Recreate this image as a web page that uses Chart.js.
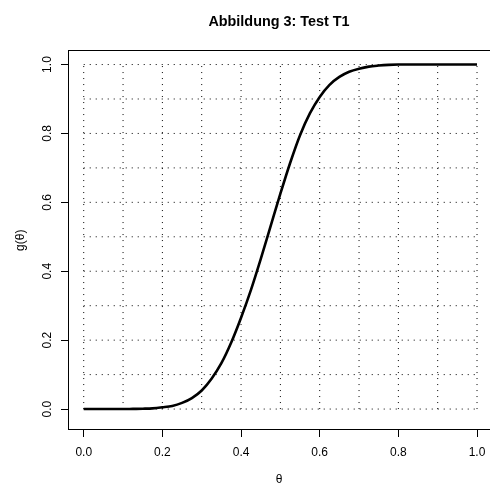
<!DOCTYPE html>
<html>
<head>
<meta charset="utf-8">
<script src="https://cdn.jsdelivr.net/npm/chart.js@4.4.0/dist/chart.umd.min.js"></script>
<style>
  html, body { margin: 0; padding: 0; background: #fff; overflow: hidden; }
  canvas { display: block; }
</style>
</head>
<body>
<canvas id="plot" width="490" height="485"></canvas>
<script>
// curve g(theta), values
const theta = [0, 0.05, 0.1, 0.125, 0.15, 0.175, 0.2, 0.225, 0.25, 0.275,
               0.3, 0.325, 0.35, 0.375, 0.4, 0.425, 0.45, 0.475, 0.5, 0.525,
               0.55, 0.575, 0.6, 0.625, 0.65, 0.675, 0.7, 0.725, 0.75, 0.775,
               0.8, 0.85, 0.9, 0.95, 1.0];
const gTheta = [0, 0, 0, 0.0005, 0.001, 0.002, 0.005, 0.009, 0.018, 0.032,
                0.054, 0.088, 0.133, 0.193, 0.265, 0.345, 0.435, 0.530, 0.625, 0.715,
                0.795, 0.858, 0.906, 0.941, 0.964, 0.979, 0.988, 0.994, 0.997, 0.999,
                1.0, 1.0, 1.0, 1.0, 1.0];

// axes
const xTicks = [0, 0.2, 0.4, 0.6, 0.8, 1.0];
const yTicks = [0, 0.2, 0.4, 0.6, 0.8, 1.0];

// dotted reference grid, drawn over [0,1] x [0,1]
const gridSteps = [0, 0.1, 0.2, 0.3, 0.4, 0.5, 0.6, 0.7, 0.8, 0.9, 1.0];
const gridRange = [0, 1];

Chart.defaults.font.family = "'Liberation Sans', Arial, sans-serif";
Chart.defaults.color = '#000';

function dotted(points) {
  return {
    data: points,
    borderColor: '#000',
    borderWidth: 1,
    borderDash: [1, 5],
    pointRadius: 0,
    tension: 0
  };
}

const gridSets = [];
gridSteps.forEach(v => {
  gridSets.push(dotted([{x: v, y: gridRange[0]}, {x: v, y: gridRange[1]}]));
  gridSets.push(dotted([{x: gridRange[0], y: v}, {x: gridRange[1], y: v}]));
});

const curve = {
  data: theta.map((t, i) => ({x: t, y: gTheta[i]})),
  borderColor: '#000',
  borderWidth: 2.6,
  pointRadius: 0,
  cubicInterpolationMode: 'monotone'
};

// R-like frame round the plot region
const frame = {
  id: 'frame',
  beforeDatasetsDraw(chart) {
    const a = chart.chartArea, c = chart.ctx;
    c.save();
    c.strokeStyle = '#000';
    c.lineWidth = 1;
    c.strokeRect(Math.round(a.left) + 0.5, Math.round(a.top) + 0.5,
                 Math.round(a.right - a.left) + 10, Math.round(a.bottom - a.top) - 1);
    c.restore();
  }
};

new Chart(document.getElementById('plot'), {
  type: 'line',
  data: { datasets: [curve].concat(gridSets) },
  plugins: [frame],
  options: {
    responsive: false,
    animation: false,
    devicePixelRatio: 1,
    layout: { padding: 0 },
    plugins: {
      legend: { display: false },
      tooltip: { enabled: false },
      title: {
        display: true,
        text: 'Abbildung 3: Test T1',
        fullSize: false,
        color: '#000',
        font: { size: 14.4, weight: 'bold' },
        padding: { top: 13.4, bottom: 19.8 }
      }
    },
    scales: {
      x: {
        type: 'linear',
        min: -0.04,
        max: 1.033,
        afterBuildTicks: s => { s.ticks = xTicks.map(v => ({value: v})); },
        ticks: { callback: v => v.toFixed(1), padding: 8, font: { size: 12 }, maxRotation: 0, autoSkip: false },
        grid: { drawOnChartArea: false, drawTicks: true, tickLength: 7, color: '#000' },
        border: { display: false },
        title: { display: true, text: 'θ', font: { size: 12 }, padding: { top: 0, bottom: -2 } },
        afterFit: s => { s.height = 55; s.paddingLeft = 0; s.paddingRight = 0; }
      },
      y: {
        type: 'linear',
        min: -0.0608,
        max: 1.0408,
        afterBuildTicks: s => { s.ticks = yTicks.map(v => ({value: v})); },
        ticks: { callback: v => v.toFixed(1), padding: 5, font: { size: 12 },
                 minRotation: 90, maxRotation: 90, crossAlign: 'center', autoSkip: false },
        grid: { drawOnChartArea: false, drawTicks: true, tickLength: 7, color: '#000' },
        border: { display: false },
        title: { display: true, text: 'g(θ)', font: { size: 12 }, padding: { top: 13.5, bottom: 0 } },
        afterFit: s => { s.width = 68; s.paddingTop = 0; s.paddingBottom = 0; }
      }
    }
  }
});
</script>
</body>
</html>
